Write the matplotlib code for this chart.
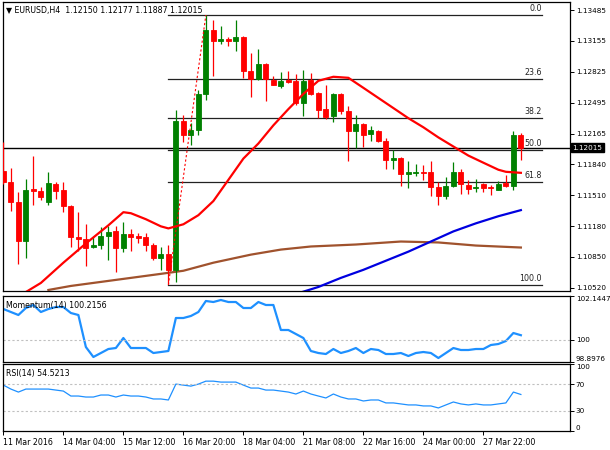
import matplotlib
matplotlib.use('Agg')
import matplotlib.pyplot as plt
import numpy as np
from matplotlib.transforms import blended_transform_factory

# ---------------- data ----------------
opens = [1.1177, 1.1165, 1.1144, 1.1102, 1.1158, 1.1155, 1.1144, 1.1163, 1.1157, 1.1139,
         1.1106, 1.1104, 1.1096, 1.1098, 1.1107, 1.1113, 1.1095, 1.1109, 1.1107, 1.1106,
         1.1098, 1.1084, 1.1088, 1.1071, 1.1230, 1.1215, 1.1220, 1.1259, 1.1327, 1.1316,
         1.1318, 1.1316, 1.1320, 1.1283, 1.1275, 1.1291, 1.1274, 1.1267, 1.1274, 1.1273,
         1.1249, 1.1274, 1.1260, 1.1243, 1.1235, 1.1259, 1.1241, 1.1219, 1.1227, 1.1216,
         1.1219, 1.1209, 1.1188, 1.1191, 1.1174, 1.1175, 1.1176, 1.1176, 1.1160, 1.1150,
         1.1161, 1.1176, 1.1162, 1.1159, 1.1163, 1.1160, 1.1157, 1.1164, 1.1161, 1.12150]
highs = [1.1208, 1.1180, 1.1154, 1.1168, 1.1193, 1.1160, 1.1176, 1.1165, 1.1165, 1.1140,
         1.1133, 1.1120, 1.1106, 1.1117, 1.1118, 1.1118, 1.1122, 1.1115, 1.1111, 1.1111,
         1.1100, 1.1096, 1.1098, 1.1242, 1.1236, 1.1228, 1.1263, 1.1343, 1.1338, 1.1332,
         1.1320, 1.1338, 1.1321, 1.1303, 1.1307, 1.1292, 1.1278, 1.1282, 1.1284, 1.1280,
         1.1285, 1.1281, 1.1261, 1.1269, 1.1260, 1.1260, 1.1246, 1.1236, 1.1228, 1.1225,
         1.1220, 1.1212, 1.1199, 1.1192, 1.1187, 1.1184, 1.1183, 1.1187, 1.1165, 1.1170,
         1.1186, 1.1179, 1.1167, 1.1168, 1.1164, 1.1162, 1.1166, 1.1172, 1.1219, 1.12177]
lows = [1.1163, 1.1134, 1.1077, 1.1084, 1.1140, 1.1146, 1.1141, 1.1147, 1.1133, 1.1096,
        1.1091, 1.1075, 1.1095, 1.1093, 1.1082, 1.1069, 1.1090, 1.1091, 1.1100, 1.1091,
        1.1082, 1.1071, 1.1056, 1.1058, 1.1208, 1.1204, 1.1215, 1.1253, 1.1278, 1.1312,
        1.1310, 1.1305, 1.1276, 1.1256, 1.1274, 1.1251, 1.1268, 1.1265, 1.1271, 1.1247,
        1.1235, 1.1258, 1.1233, 1.1232, 1.1229, 1.1238, 1.1187, 1.1201, 1.1202, 1.1209,
        1.1208, 1.1179, 1.1179, 1.1161, 1.1159, 1.1171, 1.1167, 1.1150, 1.1141, 1.1147,
        1.1160, 1.1152, 1.1152, 1.1154, 1.1154, 1.1151, 1.1156, 1.1160, 1.1156, 1.11887]
closes = [1.1165, 1.1144, 1.1102, 1.1157, 1.1155, 1.1149, 1.1164, 1.1155, 1.1139, 1.1106,
          1.1104, 1.1095, 1.1098, 1.1107, 1.1112, 1.1095, 1.1110, 1.1106, 1.1105, 1.1098,
          1.1084, 1.1088, 1.1071, 1.1230, 1.1215, 1.1221, 1.1259, 1.1327, 1.1316, 1.1318,
          1.1316, 1.1320, 1.1284, 1.1275, 1.1291, 1.1275, 1.1269, 1.1273, 1.1272, 1.1249,
          1.1273, 1.1259, 1.1242, 1.1234, 1.1259, 1.1241, 1.1219, 1.1227, 1.1215, 1.1220,
          1.1209, 1.1188, 1.1191, 1.1174, 1.1176, 1.1176, 1.1175, 1.1160, 1.1150, 1.1161,
          1.1176, 1.1163, 1.1158, 1.1160, 1.1159, 1.1159, 1.1163, 1.1161, 1.1215, 1.12015]

# moving averages (bar index, value)
ma_red_idx = [3, 5, 8, 11, 14, 16, 17, 19, 21, 22, 24, 26, 28, 30, 32, 34, 36, 38, 40, 42,
              44, 46, 48, 50, 52, 54, 56, 58, 60, 62, 64, 66, 67, 69]
ma_red = [1.10476, 1.10573, 1.10789, 1.10994, 1.11188, 1.11328, 1.11317, 1.11253, 1.11177,
          1.11155, 1.11199, 1.11296, 1.11447, 1.11673, 1.11900, 1.12061, 1.12255, 1.12428,
          1.12590, 1.12730, 1.12773, 1.12762, 1.12655, 1.12547, 1.12439, 1.12331, 1.12234,
          1.12126, 1.12029, 1.11932, 1.11856, 1.11781, 1.11759, 1.11748]
ma_blue_idx = [39, 42, 45, 48, 51, 54, 57, 60, 63, 66, 69]
ma_blue = [1.10455, 1.10530, 1.10627, 1.10713, 1.10810, 1.10907, 1.11015, 1.11123, 1.11209,
           1.11285, 1.11350]
ma_brown_idx = [6, 9, 13, 17, 21, 24, 28, 33, 37, 41, 47, 53, 58, 63, 69]
ma_brown = [1.10498, 1.10541, 1.10584, 1.10627, 1.10670, 1.10703, 1.10789, 1.10875, 1.10929,
            1.10962, 1.10983, 1.11015, 1.11005, 1.10972, 1.10951]

momentum = [101.505, 101.357, 101.210, 101.554, 101.702, 101.357, 101.505, 101.603, 101.603, 101.308,
            101.210, 99.635, 99.144, 99.340, 99.537, 99.586, 100.078, 99.586, 99.586, 99.586,
            99.340, 99.389, 99.439, 101.062, 101.062, 101.161, 101.357, 101.899, 101.849, 101.948,
            101.849, 101.849, 101.554, 101.554, 101.849, 101.702, 101.702, 100.472, 100.472, 100.275,
            100.078, 99.439, 99.340, 99.291, 99.537, 99.340, 99.439, 99.586, 99.340, 99.537,
            99.488, 99.291, 99.291, 99.340, 99.193, 99.340, 99.389, 99.340, 99.094, 99.340,
            99.586, 99.488, 99.488, 99.537, 99.537, 99.734, 99.783, 99.930, 100.324, 100.2156]
rsi = [68.5, 62.6, 58.1, 62.6, 62.6, 62.6, 62.6, 61.1, 59.6, 52.2,
       52.2, 50.7, 50.7, 53.7, 53.7, 50.7, 53.7, 52.2, 52.2, 50.7,
       47.8, 47.8, 46.3, 70.0, 68.5, 67.0, 70.0, 74.4, 74.4, 73.0,
       73.0, 73.0, 68.5, 64.1, 64.1, 61.1, 61.1, 59.6, 58.1, 55.2,
       59.6, 55.2, 52.2, 49.3, 55.2, 50.7, 47.8, 47.8, 44.8, 46.3,
       46.3, 41.9, 41.9, 40.4, 38.9, 38.9, 37.4, 37.4, 34.4, 38.9,
       43.3, 40.4, 38.9, 40.4, 38.9, 38.9, 40.4, 41.9, 58.1, 54.5213]

fib_high = 1.13431
fib_low = 1.10552
fib_levels = [0.0, 23.6, 38.2, 50.0, 61.8, 100.0]
fib_start_idx = 22
fib_high_idx = 27

bid = 1.12015
header = "\u25BC EURUSD,H4  1.12150 1.12177 1.11887 1.12015"

price_ticks = [1.13485, 1.13155, 1.12825, 1.12495, 1.12165, 1.11840, 1.11510, 1.11180, 1.10850, 1.10520]
price_tick_labels = ["1.13485", "1.13155", "1.12825", "1.12495", "1.12165", "1.11840",
                     "1.11510", "1.11180", "1.10850", "1.10520"]
mom_max, mom_min = 102.1447, 98.8976
x_tick_idx = [0, 8, 16, 24, 32, 40, 48, 56, 64]
x_tick_labels = ["11 Mar 2016", "14 Mar 04:00", "15 Mar 12:00", "16 Mar 20:00", "18 Mar 04:00",
                 "21 Mar 08:00", "22 Mar 16:00", "24 Mar 00:00", "27 Mar 22:00"]

# ---------------- figure ----------------
plt.rcParams['font.family'] = ['DejaVu Sans']
W, H = 610, 450
fig = plt.figure(figsize=(6.1, 4.5), dpi=100)
fig.patch.set_facecolor('white')


def rect(x0, y0, x1, y1):
    return [x0 / W, 1 - y1 / H, (x1 - x0) / W, (y1 - y0) / H]


ax = fig.add_axes(rect(3, 2, 570, 291))
axm = fig.add_axes(rect(3, 296, 570, 362))
axr = fig.add_axes(rect(3, 364, 570, 431))

XMIN, XMAX = -0.05, 75.55
FS = 5.2
TFS = 5.7

for a in (ax, axm, axr):
    a.set_xlim(XMIN, XMAX)
    for s in a.spines.values():
        s.set_color('black')
        s.set_linewidth(0.9)
    a.yaxis.tick_right()
    a.tick_params(axis='y', direction='out', length=3, width=0.7, labelsize=FS, pad=1.2)
    a.set_facecolor('white')

# ---- main chart ----
o = np.array(opens); h = np.array(highs); l = np.array(lows); c = np.array(closes)
x = np.arange(len(o))
cols = np.where(c >= o, '#008000', '#FF0000')
ax.vlines(x, l, h, colors=cols, lw=0.9, zorder=3)
ax.bar(x, np.abs(c - o), 0.66, bottom=np.minimum(o, c), color=cols, edgecolor=cols,
       linewidth=0.6, zorder=4)

ax.plot(ma_brown_idx, ma_brown, color='#A0522D', lw=1.6, zorder=2)
ax.plot(ma_blue_idx, ma_blue, color='#0000E0', lw=1.6, zorder=2)
ax.plot(ma_red_idx, ma_red, color='#FF0000', lw=1.6, zorder=5)

# fibonacci
fib_end = 71.8
for lv in fib_levels:
    p = fib_high - (fib_high - fib_low) * lv / 100.0
    ax.plot([fib_start_idx, fib_end], [p, p], color='#222222', lw=0.9, zorder=1)
    ax.annotate(f"{lv:.1f}", (fib_end, p), xytext=(0, 1.5), textcoords='offset points',
                ha='right', va='bottom', fontsize=TFS, color='#222222')
ax.plot([fib_start_idx, fib_high_idx], [fib_low, fib_high], color='#FF0000', lw=0.8,
        ls=(0, (2, 2)), zorder=6)

# bid line
ax.axhline(bid, color='black', lw=1.0, zorder=1)
bt = blended_transform_factory(ax.transAxes, ax.transData)
ax.text(1.004, bid, "1.12015", transform=bt, ha='left', va='center', color='white',
        fontsize=FS, bbox=dict(boxstyle='square,pad=0.2', fc='black', ec='black'), zorder=10)

ax.set_ylim(1.10487, 1.13571)
ax.set_yticks(price_ticks)
ax.set_yticklabels(price_tick_labels)
ax.set_xticks([])
ax.text(0.006, 0.985, header, transform=ax.transAxes, ha='left', va='top', fontsize=TFS)

# ---- momentum ----
axm.plot(x, momentum, color='#1E90FF', lw=1.6)
axm.axhline(100, color='#C0C0C0', lw=0.8, ls=(0, (2, 2)))
axm.set_ylim(mom_min, mom_max)
axm.set_yticks([mom_max, 100, mom_min])
axm.set_yticklabels([f"{mom_max:.4f}", "100", f"{mom_min:.4f}"])
labs = axm.get_yticklabels()
labs[0].set_va('top'); labs[2].set_va('bottom')
axm.set_xticks([])
axm.text(0.006, 0.93, f"Momentum(14) {momentum[-1]:.4f}", transform=axm.transAxes,
         ha='left', va='top', fontsize=TFS)

# ---- RSI ----
axr.plot(x, rsi, color='#1E90FF', lw=0.9)
for lv in (70, 30):
    axr.axhline(lv, color='#C0C0C0', lw=0.8, ls=(0, (2, 2)))
axr.set_ylim(0, 100)
axr.set_yticks([100, 70, 30, 0])
axr.set_yticklabels(["100", "70", "30", "0"])
rl = axr.get_yticklabels()
rl[0].set_va('top'); rl[3].set_va('bottom')
axr.text(0.006, 0.93, f"RSI(14) {rsi[-1]:.4f}", transform=axr.transAxes,
         ha='left', va='top', fontsize=TFS)
axr.set_xticks(x_tick_idx)
axr.set_xticklabels(x_tick_labels, ha='left')
axr.tick_params(axis='x', direction='out', length=3, width=0.7, labelsize=TFS, pad=2)

fig.savefig('out.png', dpi=100, facecolor='white')
